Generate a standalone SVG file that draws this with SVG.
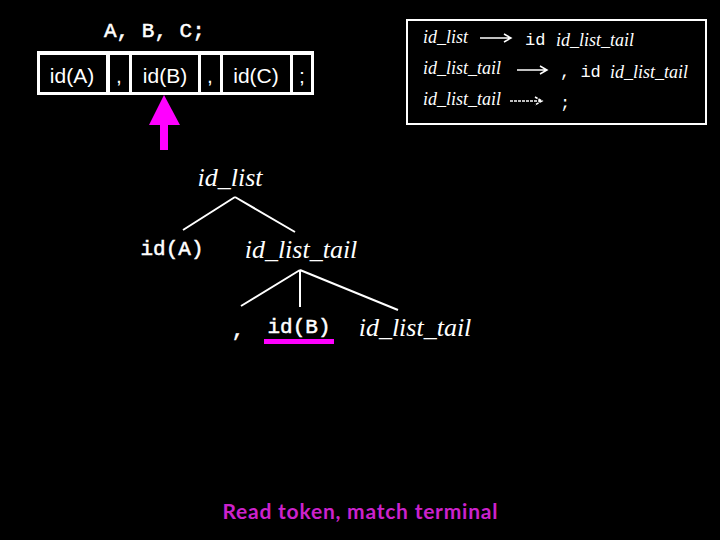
<svg xmlns="http://www.w3.org/2000/svg" width="720" height="540" viewBox="0 0 720 540">
<style>
.mono{font-family:"Liberation Mono","DejaVu Sans Mono",monospace;fill:#fff}
.med{stroke:#fff;stroke-width:0.5}
.ital{font-family:"Liberation Serif","DejaVu Serif",serif;font-style:italic;fill:#fff}
.tok{font-family:"Liberation Sans",Arial,sans-serif;font-size:21px;fill:#fff}
.cell{fill:#000}
.edge{stroke:#fff;stroke-width:2;fill:none}
</style>
<rect width="720" height="540" fill="#000"/>
<g id="input-text"><text class="mono med" x="104" y="37" font-size="21">A, B, C;</text></g>
<g id="tokens">
<rect x="37" y="51" width="277" height="44" fill="#fff"/>
<rect class="cell" x="40" y="55" width="66" height="37"/>
<rect class="cell" x="110" y="55" width="19" height="37"/>
<rect class="cell" x="132" y="55" width="66" height="37"/>
<rect class="cell" x="201" y="55" width="19" height="37"/>
<rect class="cell" x="223" y="55" width="67" height="37"/>
<rect class="cell" x="293" y="55" width="18" height="37"/>
<text class="tok" x="72" y="83" text-anchor="middle">id(A)</text>
<text class="tok" x="119" y="83" text-anchor="middle">,</text>
<text class="tok" x="165" y="83" text-anchor="middle">id(B)</text>
<text class="tok" x="210" y="83" text-anchor="middle">,</text>
<text class="tok" x="256" y="83" text-anchor="middle">id(C)</text>
<text class="tok" x="302" y="83" text-anchor="middle">;</text>
</g>
<g id="pointer"><polygon points="164,95 180,125 149,125" fill="#f0f"/><rect x="160" y="124" width="8" height="26" fill="#f0f"/></g>
<g id="grammar">
<rect x="407" y="20" width="299" height="104" fill="none" stroke="#fff" stroke-width="2"/>
<text class="ital" x="423" y="43" font-size="18">id_list</text>
<text class="mono" x="525" y="45" font-size="17">id</text>
<text class="ital" x="556" y="46" font-size="18">id_list_tail</text>
<text class="ital" x="423" y="74" font-size="18">id_list_tail</text>
<text class="mono" x="560" y="77" font-size="17">, id</text>
<text class="ital" x="610" y="78" font-size="18">id_list_tail</text>
<text class="ital" x="423" y="105" font-size="18">id_list_tail</text>
<text class="mono" x="560" y="108" font-size="17">;</text>
<g stroke="#fff" stroke-width="1.5" fill="none">
<path d="M480,38 H510 M504,34 L511,38 L504,42"/>
<path d="M517,70 H546 M540,66 L547,70 L540,74"/>
<path d="M510,101 H541 M535,97 L542,101 L535,105" stroke-dasharray="3,1"/>
</g>
</g>
<g id="connectors">
<path class="edge" d="M235,197 L183,230 M235,197 L295,232"/>
<path class="edge" d="M300,270 L241,306 M300,270 V307 M300,270 L398,310"/>
</g>
<g id="n-id_list"><text class="ital" x="230" y="186" font-size="26" text-anchor="middle">id_list</text></g>
<g id="n-idA"><text class="mono med" x="172" y="255" font-size="21" text-anchor="middle">id(A)</text></g>
<g id="n-tail1"><text class="ital" x="301" y="258" font-size="26" text-anchor="middle">id_list_tail</text></g>
<g id="n-comma"><text class="mono med" x="238" y="336" font-size="21" text-anchor="middle">,</text></g>
<g id="n-idB"><text class="mono med" x="299" y="333" font-size="21" text-anchor="middle">id(B)</text><rect x="264" y="339" width="70" height="5" fill="#f0f"/></g>
<g id="n-tail2"><text class="ital" x="415" y="336" font-size="26" text-anchor="middle">id_list_tail</text></g>
<g id="caption"><text x="360" y="519" font-family="Lato,'Open Sans',sans-serif" font-size="21" font-weight="bold" fill="#cc22cc" text-anchor="middle" textLength="275">Read token, match terminal</text></g>
</svg>
